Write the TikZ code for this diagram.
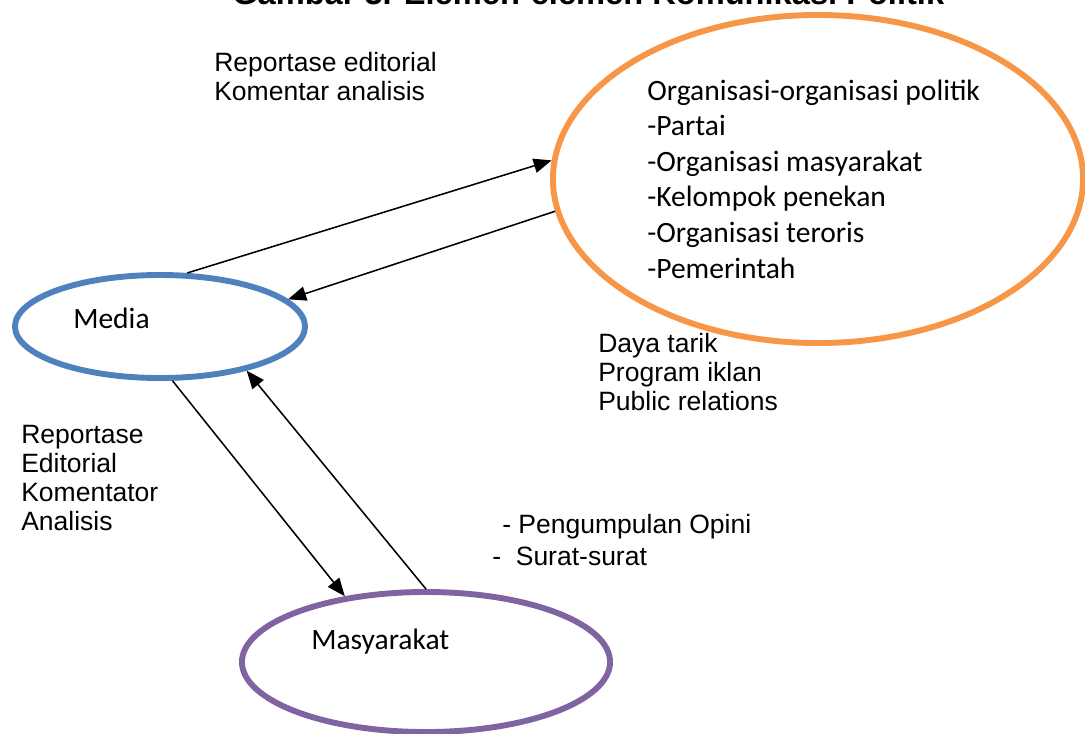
\documentclass[tikz,border=0pt]{standalone}
\usepackage{fontspec}
\setmainfont{Liberation Sans}
\newfontfamily\calibri{Carlito}
\usetikzlibrary{
	shapes,
	arrows.meta}
\definecolor{medblue}{RGB}{79,129,189}
\definecolor{orgorange}{RGB}{247,150,70}
\definecolor{maspurple}{RGB}{128,100,162}

\begin{document}
\begin{tikzpicture}[x=0.025cm,y=-0.025cm,every text node part/.style={align=left},
    oval/.style={ellipse,draw,line width=4.2pt,inner sep=0pt},
    lbl/.style={inner sep=0pt,anchor=base west,font=\fontsize{18.85}{20.6}\selectfont},
    inlbl/.style={inner sep=0pt,anchor=base west,font=\calibri\fontsize{21}{25.3}\selectfont},
    link/.style={line width=1.1pt,-{Triangle[length=0.45cm,width=0.36cm]}}]
  \useasboundingbox (0,0) rectangle (1085,733);
    % Title
  \node[lbl,font=\bfseries\fontsize{23.2}{27}\selectfont] (Ti) at (232,4) {Gambar 3. Elemen-elemen Komunikasi Politik};
    % Ovals
  \node[oval,draw=medblue,minimum width=7.25cm,minimum height=2.575cm] (Med) at (160,326.5) {};
  \node[oval,draw=orgorange,minimum width=13.25cm,minimum height=8.2cm] (Org) at (818,179) {};
  \node[oval,draw=maspurple,minimum width=9.2cm,minimum height=3.5cm] (Mas) at (426,662) {};
  \node[inlbl] (MedT) at (73,328) {Media};
  \node[inlbl] (MasT) at (311,649) {Masyarakat};
  \node[inlbl] (OrgT) at (647,278) {Organisasi-organisasi politik\\
    -Partai\\
    -Organisasi masyarakat\\
    -Kelompok penekan\\
    -Organisasi teroris\\
    -Pemerintah};
    % Labels
  \node[lbl] (R1) at (214,100) {Reportase editorial\\Komentar analisis};
  \node[lbl] (D1) at (598,410) {Daya tarik\\Program iklan\\Public relations};
  \node[lbl] (R2) at (21,530) {Reportase\\Editorial\\Komentator\\Analisis};
  \node[lbl] (P1) at (502,533) {- Pengumpulan Opini};
  \node[lbl] (S1) at (492,565) {- \ Surat-surat};

  \draw [link] (Med.63)  to (Org.176);
  \draw [link] (Org.187) to (Med.12);
  \draw [link] (Med.283) to (Mas.141);
  \draw [link] (Mas.90)  to (Med.333);

\end{tikzpicture}
\end{document}
